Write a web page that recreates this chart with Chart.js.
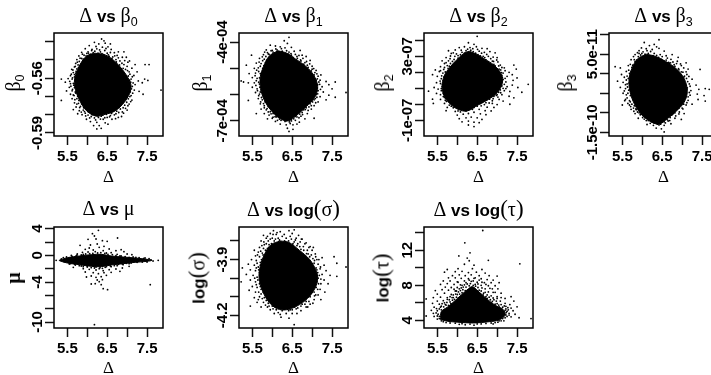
<!DOCTYPE html>
<html><head><meta charset="utf-8">
<script src="https://cdn.jsdelivr.net/npm/chart.js@4"></script>
<style>
html,body{margin:0;padding:0;background:#fff;width:711px;height:375px;overflow:hidden}
canvas{position:absolute}
.t{position:absolute;white-space:nowrap;font:bold 17px "Liberation Sans",sans-serif;color:#000;transform:translate(-50%,-50%);line-height:1}
.r{transform:translate(-50%,-50%) rotate(-90deg)}
.g{font-family:"Liberation Serif",serif;font-weight:normal;font-size:20px}
.p{font-family:"Liberation Serif",serif;font-weight:normal;font-size:23px}
sub{font:normal 12.5px "Liberation Sans",sans-serif;vertical-align:-4px;line-height:0}
</style></head><body>
<script>
// Shared horizontal axis
const deltaTicks=[5.5,6,6.5,7,7.5];
const deltaLabels=['5.5','','6.5','','7.5'];

// beta0
const beta0Ticks=[-0.54,-0.55,-0.56,-0.57,-0.58,-0.59];
const beta0Labels=['','','-0.56','','','-0.59'];
const beta0Dense=[[6.2,-.5463],[6.45,-.5472],[6.68,-.5505],[6.88,-.5552],[7.04,-.5605],[7.1,-.5645],[7.04,-.5695],[6.88,-.5745],[6.68,-.5782],[6.45,-.5798],[6.22,-.5808],[5.98,-.5778],[5.81,-.5722],[5.7,-.566],[5.68,-.561],[5.76,-.5552],[5.89,-.55],[6.03,-.5472],[6.2,-.5463]];
const beta0Points=[[6.36,-.5385],[6.18,-.5403],[6.29,-.5412],[6.45,-.5408],[6.05,-.5421],[6.22,-.5426],[6.38,-.543],[6.52,-.5428],[5.95,-.5438],[6.12,-.5442],[6.31,-.5445],[6.44,-.5448],[6.6,-.5442],[6.02,-.5455],[6.15,-.546],[6.27,-.5462],[6.37,-.5465],[6.5,-.5463],[6.68,-.546],[6.75,-.5475],[5.88,-.5468],[5.97,-.5478],[6.08,-.547],[6.55,-.548],[6.62,-.5492],[6.72,-.5498],[6.82,-.5505],[5.82,-.549],[5.9,-.5495],[5.75,-.5512],[5.84,-.5525],[5.7,-.5535],[5.78,-.5542],[5.64,-.5555],[5.72,-.5562],[5.6,-.5578],[5.68,-.558],[5.52,-.5602],[5.62,-.5605],[5.69,-.5612],[5.35,-.5605],[5.45,-.5622],[5.58,-.563],[5.66,-.5638],[5.55,-.565],[5.63,-.5662],[5.7,-.5675],[5.48,-.567],[5.58,-.5688],[5.67,-.5695],[5.35,-.5722],[5.62,-.5712],[5.74,-.5712],[5.68,-.5735],[5.78,-.5738],[5.72,-.5758],[5.83,-.5755],[5.65,-.5772],[5.8,-.5778],[5.9,-.5775],[5.76,-.5795],[5.87,-.58],[5.95,-.5792],[6.02,-.5802],[6.1,-.581],[5.98,-.5825],[6.18,-.5818],[6.28,-.5815],[6.35,-.5808],[6.08,-.5838],[6.24,-.5842],[6.4,-.5825],[6.5,-.5815],[6.16,-.586],[6.3,-.586],[6.45,-.5845],[6.58,-.5805],[6.62,-.5825],[6.24,-.5878],[6.35,-.5875],[6.52,-.5852],[6.72,-.5795],[6.78,-.5815],[6.88,-.5785],[6.96,-.5765],[6.86,-.581],[7.05,-.5742],[7,-.5775],[7.12,-.572],[7.1,-.5695],[7.18,-.5665],[7.08,-.5675],[7.2,-.5635],[7.13,-.5645],[7.28,-.5615],[7.38,-.5625],[7.44,-.5605],[7.52,-.5612],[7.3,-.5672],[7.4,-.5688],[7.1,-.5605],[7.17,-.5585],[7.25,-.5565],[7.05,-.5565],[7.12,-.5545],[7.2,-.5525],[7,-.5535],[7.06,-.5505],[6.92,-.5525],[6.98,-.5485],[6.88,-.5485],[7.45,-.5525],[7.55,-.5525],[7.85,-.5665],[6.78,-.5455],[6.58,-.5412],[6.42,-.5395],[6.92,-.5455],[7.02,-.5512]];
const beta0Edge=[[6.03,-.5462],[6.11,-.5448],[6.19,-.5452],[6.24,-.5439],[6.33,-.5456],[6.41,-.5471],[6.47,-.5437],[6.53,-.5472],[6.58,-.5459],[6.64,-.5483],[6.69,-.5477],[6.73,-.5511],[6.78,-.5488],[6.81,-.5527],[6.87,-.5518],[6.9,-.5546],[6.94,-.5503],[6.96,-.5552],[7.01,-.5558],[7.03,-.5588],[7.07,-.5578],[7.09,-.5622],[7.13,-.5592],[7.15,-.5626],[7.06,-.5611],[7.11,-.5658],[7.14,-.5682],[7.07,-.5701],[7.03,-.5713],[7.09,-.5728],[6.99,-.5732],[6.94,-.5748],[7.02,-.5751],[6.9,-.5762],[6.83,-.5769],[6.91,-.5792],[6.79,-.5788],[6.74,-.5781],[6.68,-.5801],[6.71,-.5822],[6.61,-.5793],[6.56,-.5812],[6.48,-.5798],[6.44,-.5817],[6.39,-.5803],[6.33,-.5824],[6.27,-.5806],[6.21,-.5829],[6.13,-.5799],[6.06,-.5818],[6.03,-.5785],[5.96,-.5807],[5.93,-.5783],[5.85,-.5786],[5.91,-.5762],[5.81,-.5761],[5.86,-.5741],[5.74,-.5742],[5.79,-.5722],[5.69,-.5718],[5.76,-.5699],[5.65,-.5692],[5.71,-.5681],[5.62,-.5669],[5.68,-.5652],[5.59,-.5644],[5.65,-.5628],[5.7,-.5641],[5.56,-.5617],[5.63,-.5598],[5.68,-.5593],[5.58,-.5586],[5.71,-.5572],[5.65,-.5569],[5.61,-.5551],[5.74,-.5549],[5.68,-.5538],[5.77,-.5527],[5.71,-.5519],[5.8,-.5508],[5.74,-.5498],[5.86,-.5492],[5.79,-.5478],[5.92,-.5474],[5.86,-.5458],[5.99,-.5464]];

// beta1 (values in units of 1e-04)
const beta1Ticks=[-4,-5,-6,-7];
const beta1Labels=['-4e-04','','','-7e-04'];
const beta1Dense=[[6.14,-4.33],[6.36,-4.42],[6.58,-4.64],[6.84,-4.92],[7.04,-5.26],[7.14,-5.7],[7.06,-6.12],[6.85,-6.46],[6.62,-6.78],[6.4,-7],[6.18,-6.9],[5.97,-6.6],[5.81,-6.24],[5.71,-5.78],[5.7,-5.32],[5.78,-4.94],[5.92,-4.54],[6.14,-4.33]];
const beta1Points=[[6.42,-3.82],[6.3,-3.95],[6.38,-4.05],[5.95,-4.12],[6.08,-4.15],[6.2,-4.18],[6.32,-4.22],[6.48,-4.2],[5.85,-4.3],[6,-4.32],[6.12,-4.3],[6.25,-4.35],[6.42,-4.38],[6.55,-4.35],[6.7,-4.32],[5.78,-4.48],[5.9,-4.45],[6.05,-4.42],[6.48,-4.5],[6.62,-4.55],[6.75,-4.5],[6.85,-4.55],[5.68,-4.62],[5.8,-4.65],[5.92,-4.58],[6.6,-4.7],[6.72,-4.72],[6.82,-4.78],[6.95,-4.7],[5.6,-4.8],[5.72,-4.82],[5.83,-4.78],[6.88,-4.88],[7,-4.92],[5.35,-4.88],[5.55,-5],[5.65,-4.98],[5.76,-5],[6.98,-5.1],[7.1,-5.08],[7.15,-5.3],[5.42,-5.2],[5.58,-5.18],[5.7,-5.2],[7.05,-5.25],[7.22,-5.25],[5.5,-5.35],[5.62,-5.38],[5.72,-5.42],[7.1,-5.45],[7.2,-5.45],[7.35,-5.5],[5.28,-5.52],[5.4,-5.55],[5.55,-5.55],[5.68,-5.6],[7.14,-5.62],[7.25,-5.7],[7.42,-5.62],[7.58,-5.52],[5.5,-5.72],[5.62,-5.78],[5.72,-5.82],[7.15,-5.85],[7.28,-5.9],[7.5,-5.78],[7.85,-5.92],[5.58,-5.92],[5.68,-5.98],[5.78,-6.02],[7.1,-6],[7.2,-6.08],[7.42,-6.02],[7.58,-6.1],[5.65,-6.15],[5.75,-6.2],[5.82,-6.28],[7.05,-6.2],[7.15,-6.28],[7.35,-6.2],[5.4,-6.22],[5.7,-6.35],[5.8,-6.42],[5.9,-6.45],[6.95,-6.35],[7.05,-6.42],[5.72,-6.55],[5.85,-6.58],[5.95,-6.65],[6.85,-6.5],[6.98,-6.55],[5.6,-6.72],[5.8,-6.72],[5.92,-6.78],[6.02,-6.72],[6.75,-6.68],[6.88,-6.72],[7.05,-6.9],[5.88,-6.92],[6,-6.9],[6.1,-6.85],[6.62,-6.85],[6.72,-6.82],[6.82,-6.92],[6.08,-7.02],[6.22,-6.98],[6.32,-7.02],[6.48,-7],[6.58,-6.98],[6.68,-7.05],[6.2,-7.12],[6.35,-7.15],[6.45,-7.1],[6.52,-7.15],[6.62,-7.12],[6.38,-7.28],[6.52,-7.32],[6.42,-7.4],[5.48,-4.5],[5.22,-5.48]];
const beta1Edge=[[6.02,-4.38],[6.09,-4.26],[6.17,-4.37],[6.23,-4.25],[6.29,-4.43],[6.36,-4.33],[6.41,-4.46],[6.47,-4.44],[6.52,-4.58],[6.58,-4.47],[6.63,-4.62],[6.67,-4.51],[6.71,-4.68],[6.77,-4.62],[6.79,-4.84],[6.86,-4.74],[6.9,-4.96],[6.94,-4.83],[7,-5.03],[7.04,-5.01],[7.07,-5.16],[7.12,-5.21],[7.13,-5.4],[7.17,-5.52],[7.19,-5.61],[7.13,-5.75],[7.21,-5.8],[7.14,-5.97],[7.12,-6.1],[7.08,-6.15],[7.09,-6.31],[7.01,-6.28],[6.98,-6.42],[6.92,-6.47],[6.9,-6.6],[6.83,-6.57],[6.79,-6.58],[6.76,-6.76],[6.69,-6.74],[6.67,-6.88],[6.58,-6.83],[6.54,-6.92],[6.47,-6.94],[6.43,-7.04],[6.35,-6.99],[6.28,-6.93],[6.18,-6.93],[6.13,-6.98],[6.07,-6.84],[6.02,-6.86],[5.97,-6.73],[5.9,-6.66],[5.87,-6.53],[5.8,-6.5],[5.78,-6.34],[5.71,-6.28],[5.73,-6.11],[5.66,-6.04],[5.7,-5.9],[5.63,-5.85],[5.69,-5.72],[5.59,-5.65],[5.66,-5.53],[5.6,-5.47],[5.68,-5.36],[5.57,-5.28],[5.66,-5.12],[5.74,-5.17],[5.61,-5.07],[5.7,-4.92],[5.79,-4.9],[5.67,-4.76],[5.76,-4.71],[5.86,-4.7],[5.75,-4.56],[5.84,-4.55],[5.92,-4.47],[5.81,-4.38],[5.88,-4.4],[5.97,-4.33]];

// beta2 (values in units of 1e-07)
const beta2Ticks=[4,3,2,1,0,-1];
const beta2Labels=['','3e-07','','','','-1e-07'];
const beta2Dense=[[6.3,3.32],[6.5,3.12],[6.68,2.84],[6.92,2.45],[7.1,1.9],[7.13,1.3],[7,.72],[6.78,.3],[6.52,-.05],[6.25,-.42],[6.02,-.32],[5.81,.05],[5.67,.52],[5.62,1.1],[5.67,1.76],[5.81,2.3],[6.02,2.86],[6.18,3.2],[6.3,3.32]];
const beta2Points=[[6.5,4.25],[6.28,3.85],[6.42,3.75],[6.05,3.55],[6.18,3.6],[6.32,3.55],[6.48,3.6],[6.62,3.5],[6.75,3.48],[5.95,3.4],[6.1,3.38],[6.22,3.35],[6.4,3.3],[6.55,3.32],[6.68,3.25],[6.82,3.3],[6.95,3.22],[5.78,3.35],[5.85,3.18],[5.98,3.15],[6.08,3.1],[6.52,3.1],[6.65,3],[6.78,3],[6.9,2.95],[7,2.92],[5.72,2.92],[5.82,2.85],[5.92,2.8],[6.72,2.78],[6.88,2.7],[7.02,2.65],[7.08,2.45],[5.62,2.72],[5.72,2.6],[5.83,2.55],[6.92,2.5],[7.12,2.3],[7.2,2.1],[5.58,2.35],[5.68,2.3],[5.77,2.25],[7.05,2.2],[7.15,1.95],[7.3,2],[7.42,2.45],[7.48,2.2],[5.45,2.15],[5.55,2.05],[5.64,1.95],[7.12,1.8],[7.25,1.75],[7.38,1.85],[5.38,1.85],[5.5,1.75],[5.6,1.6],[7.15,1.55],[7.22,1.4],[7.4,1.5],[7.5,1.65],[7.78,1.25],[5.48,1.35],[5.58,1.3],[5.62,1.1],[7.12,1.15],[7.25,1.1],[7.38,1.2],[7.52,1.05],[5.42,1.05],[5.52,.95],[5.6,.85],[7.08,.9],[7.18,.85],[7.32,.8],[5.28,.82],[5.48,.68],[5.58,.6],[5.65,.48],[7,.6],[7.12,.6],[7.3,.5],[7.42,.4],[7.62,.75],[5.38,.32],[5.58,.3],[5.7,.25],[6.9,.35],[7.05,.3],[7.15,.2],[5.4,.05],[5.68,.05],[5.8,-.05],[6.72,.1],[6.88,.05],[7,-.02],[7.32,0],[5.75,-.2],[5.9,-.22],[6.6,-.1],[6.75,-.18],[6.92,-.2],[5.72,-.4],[5.95,-.45],[6.08,-.48],[6.42,-.2],[6.55,-.32],[6.7,-.4],[6.85,-.42],[6,-.68],[6.15,-.62],[6.28,-.58],[6.42,-.5],[6.58,-.6],[6.72,-.65],[6.05,-.9],[6.22,-.85],[6.35,-.8],[6.5,-.85],[6.62,-.95],[6.12,-1.1],[6.28,-1.05],[6.42,-1.12],[6.55,-1.15],[6.28,-1.3],[6.42,-1.4]];
const beta2Edge=[[6.02,3.05],[6.12,3.25],[6.18,3.2],[6.26,3.45],[6.34,3.38],[6.39,3.48],[6.46,3.2],[6.51,3.44],[6.58,3.02],[6.61,3.2],[6.69,2.92],[6.74,3.12],[6.78,2.65],[6.84,2.85],[6.91,2.68],[6.95,2.4],[6.99,2.77],[7.04,2.4],[7,2.22],[7.09,2.15],[7.11,1.98],[7.18,2.28],[7.13,1.68],[7.2,1.62],[7.11,1.42],[7.18,1.25],[7.15,1],[7.22,.98],[7.05,1.02],[7.04,.75],[7.09,.72],[6.98,.55],[7.02,.45],[6.92,.5],[6.88,.22],[6.81,.32],[6.8,.08],[6.74,.28],[6.68,-.02],[6.63,.12],[6.58,.05],[6.5,-.12],[6.45,-.05],[6.38,-.32],[6.32,-.12],[6.22,-.42],[6.18,-.35],[6.1,-.3],[6.02,-.42],[5.98,-.12],[5.92,-.02],[5.85,-.12],[5.82,.1],[5.78,.32],[5.73,.18],[5.68,.42],[5.65,.68],[5.6,.98],[5.63,1.22],[5.57,1.45],[5.65,1.48],[5.61,1.78],[5.67,1.72],[5.58,2.1],[5.7,2.02],[5.66,2.18],[5.75,2.42],[5.68,2.55],[5.8,2.38],[5.87,2.42],[5.78,2.72],[5.88,2.68],[5.95,2.58],[5.83,3.02],[5.94,3],[6.02,2.88],[5.9,3.22]];

// beta3 (values in units of 1e-11)
const beta3Ticks=[10,5,0,-5,-10,-15];
const beta3Labels=['','5.0e-11','','','','-1.5e-10'];
const beta3Dense=[[6.1,5],[6.32,4.5],[6.58,3.2],[6.84,1.4],[7.05,-1.2],[7.13,-4.5],[7.05,-7.3],[6.84,-9.7],[6.63,-11.5],[6.42,-12.9],[6.18,-12.1],[5.97,-10.3],[5.81,-7.9],[5.69,-4.5],[5.67,-1.2],[5.74,1.3],[5.88,3.8],[6.1,5]];
const beta3Points=[[6.42,8.7],[6.05,8],[6.3,7.5],[6.18,7.2],[6.36,6.9],[5.98,6.6],[6.1,6.4],[6.25,6.2],[6.42,6.5],[6.55,5.8],[5.92,5.9],[6.02,5.6],[6.15,5.2],[6.3,5.2],[6.45,4.9],[6.6,4.6],[6.75,4.9],[6.9,4.2],[5.82,4.9],[5.9,4.4],[6,4.1],[6.48,3.7],[6.6,3.5],[6.72,3.7],[6.88,3.2],[5.72,3.6],[5.82,3.1],[5.88,2.6],[6.68,2.7],[6.8,2.3],[6.98,2.1],[7.1,2.8],[5.65,2.1],[5.74,1.6],[5.8,1.2],[6.78,1.4],[6.92,1],[7.02,.4],[7.15,1.2],[5.32,1.8],[5.45,1.5],[5.6,.6],[5.68,.1],[5.74,-.4],[6.92,-.2],[7.05,-.8],[7.12,-.2],[7.45,1.1],[5.48,-.2],[5.55,-.9],[5.65,-1.2],[7.02,-1.6],[7.14,-2],[7.25,-1.4],[5.38,-1.9],[5.52,-2.2],[5.62,-2.6],[5.7,-3],[7.1,-3],[7.2,-3.2],[7.35,-2.9],[5.45,-3.5],[5.58,-3.8],[5.66,-4.2],[7.12,-4],[7.22,-4.3],[7.42,-4],[7.58,-3.8],[7.68,-4],[5.52,-5],[5.6,-5.4],[5.7,-5.6],[7.1,-5.2],[7.2,-5.5],[7.38,-5.2],[7.55,-5.6],[5.58,-6.6],[5.68,-6.9],[5.77,-6.6],[7.05,-6.4],[7.15,-6.8],[7.4,-6.6],[7.58,-7],[5.5,-8],[5.68,-8],[5.8,-8.2],[7,-7.6],[7.1,-8],[7.25,-7.8],[5.72,-9.1],[5.85,-9.2],[5.95,-9.6],[6.92,-8.8],[7.02,-9],[5.82,-10.2],[5.95,-10.5],[6.05,-10.8],[6.82,-10],[6.92,-10.3],[7.05,-10.2],[5.9,-11.4],[6.05,-11.6],[6.15,-12],[6.7,-11.2],[6.82,-11.4],[6.98,-11.7],[6.2,-12.7],[6.3,-12.6],[6.55,-12.3],[6.65,-12.1],[6.72,-12.8],[6.12,-13],[6.28,-13.2],[6.42,-13.1],[6.55,-13.2],[6.35,-13.9],[6.48,-14.1],[6.55,-14.9]];
const beta3Edge=[[5.88,5.4],[5.96,4.8],[6.07,5],[6.12,5.9],[6.21,5.7],[6.27,4.6],[6.36,4.7],[6.41,4.2],[6.5,4.4],[6.54,3.3],[6.63,4],[6.66,2.9],[6.71,2.8],[6.77,3],[6.82,1.9],[6.86,2.6],[6.91,1.3],[6.96,2.5],[6.98,.5],[7.04,1.5],[7.06,-.6],[7.1,.5],[7.11,-1.2],[7.17,-.7],[7.13,-3.6],[7.18,-2.6],[7.15,-5.9],[7.18,-4.8],[7.12,-7.4],[7.08,-6.2],[7.04,-7.8],[7,-8.8],[6.95,-8],[6.93,-9.8],[6.87,-9],[6.84,-10.8],[6.78,-10.2],[6.74,-10.6],[6.69,-12],[6.63,-11.8],[6.58,-12.6],[6.5,-12.2],[6.46,-12.9],[6.38,-12.9],[6.32,-12.2],[6.25,-12.4],[6.18,-11.8],[6.1,-12],[6.08,-11],[6.01,-11.2],[5.98,-10.4],[5.92,-10],[5.88,-9.8],[5.84,-9],[5.79,-9.6],[5.78,-8.8],[5.74,-7.8],[5.71,-8.4],[5.7,-7.2],[5.64,-7.6],[5.62,-6.2],[5.56,-6.9],[5.64,-5],[5.55,-4.4],[5.63,-3.4],[5.67,-2.4],[5.58,-2.8],[5.6,-1.6],[5.69,-.8],[5.62,-.6],[5.66,.9],[5.72,.6],[5.7,2.4],[5.76,2.2],[5.8,3.6],[5.86,3.5],[5.78,4.4],[5.92,5.2],[5.99,5.2]];

// mu
const muTicks=[4,2,0,-2,-4,-6,-8,-10];
const muLabels=['4','','0','','-4','','','-10'];
const muDense=[[5.3,-.72],[5.5,-.35],[5.8,-.1],[6.1,.1],[6.35,.15],[6.6,-.1],[6.9,-.25],[7.2,-.4],[7.5,-.6],[7.62,-.75],[7.5,-.9],[7.2,-1.05],[6.9,-1.25],[6.6,-1.45],[6.35,-1.7],[6.1,-1.65],[5.8,-1.4],[5.5,-1.15],[5.3,-.8],[5.3,-.72]];
const muPoints=[[6.28,3.75],[6.13,3.25],[6.18,2.9],[6.22,2.45],[6.76,2.6],[6.02,2.4],[6.38,2.2],[6.5,2.1],[5.82,1.5],[6.08,1.55],[6.25,1.7],[6.42,1.35],[6.05,1.1],[6.3,1.2],[5.95,.9],[6.15,.8],[6.55,.95],[6.72,.7],[6.85,.85],[5.88,.45],[6.02,.5],[6.2,.55],[6.4,.7],[6.6,.4],[6.92,.55],[7,.2],[5.75,.2],[5.9,.15],[6.48,.35],[6.75,.15],[7.12,.1],[5.6,0],[5.72,-.1],[6.85,-.1],[7.22,-.3],[7.42,-.45],[5.22,-.75],[5.4,-.35],[7.6,-.7],[7.78,-.75],[5.55,-1.3],[5.7,-1.45],[5.85,-1.6],[6,-1.75],[6.18,-1.9],[6.32,-1.85],[6.45,-1.8],[6.6,-1.7],[6.75,-1.55],[6.9,-1.4],[7.05,-1.25],[5.65,-1.8],[5.9,-2],[6.05,-2.1],[6.22,-2.2],[6.4,-2.3],[6.55,-2.15],[6.72,-2.05],[6.88,-1.9],[7.05,-1.65],[5.95,-2.5],[6.15,-2.6],[6.28,-2.75],[6.42,-2.6],[6.6,-2.55],[6.82,-2.4],[6.1,-3.1],[6.22,-3.3],[6.35,-3.2],[6.48,-3],[5.98,-3.25],[6.25,-3.7],[6.38,-3.65],[6.3,-3.95],[6.2,-4.25],[6.1,-4.3],[6.35,-4.4],[6.4,-5],[6.51,-5.15],[7.58,-4.4],[6.18,-10.4]];
const muEdge=[[5.35,-.55],[5.42,-.95],[5.48,-.25],[5.58,-1.25],[5.62,-.15],[5.68,-1.3],[5.74,.02],[5.8,-1.55],[5.85,.05],[5.9,-1.7],[5.96,.2],[6,-1.6],[6.06,.25],[6.1,-1.85],[6.14,.3],[6.22,-1.75],[6.26,.35],[6.3,-2],[6.34,.4],[6.38,-1.95],[6.44,.3],[6.48,-1.7],[6.52,.15],[6.58,-1.6],[6.63,.1],[6.68,-1.55],[6.72,-.05],[6.78,-1.35],[6.82,-.1],[6.88,-1.3],[6.95,-.2],[6.98,-1.2],[7.05,-.3],[7.1,-1.15],[7.15,-.25],[7.25,-1.05],[7.3,-.35],[7.38,-1],[7.45,-.4],[7.5,-1],[7.55,-.5],[7.65,-.85]];

// log(sigma)
const logSigmaTicks=[-3.8,-3.9,-4,-4.1,-4.2];
const logSigmaLabels=['','-3.9','','','-4.2'];
const logSigmaDense=[[6.2,-3.8],[6.42,-3.808],[6.68,-3.85],[6.94,-3.9],[7.09,-3.955],[7.14,-4],[7.07,-4.055],[6.88,-4.11],[6.62,-4.15],[6.35,-4.17],[6.13,-4.165],[5.92,-4.13],[5.76,-4.07],[5.67,-4],[5.7,-3.935],[5.81,-3.87],[5.97,-3.82],[6.2,-3.8]];
const logSigmaPoints=[[6.55,-3.74],[6.03,-3.745],[6.2,-3.75],[6.42,-3.745],[5.78,-3.77],[5.95,-3.76],[6.1,-3.765],[6.3,-3.765],[6.5,-3.76],[6.66,-3.77],[5.85,-3.785],[6,-3.785],[6.15,-3.785],[6.35,-3.785],[6.48,-3.79],[6.6,-3.785],[6.75,-3.79],[5.72,-3.8],[5.9,-3.8],[6.05,-3.8],[6.55,-3.805],[6.7,-3.805],[6.85,-3.81],[5.8,-3.82],[5.92,-3.82],[6.62,-3.825],[6.78,-3.83],[6.95,-3.83],[5.68,-3.835],[5.78,-3.84],[5.88,-3.84],[6.72,-3.845],[6.88,-3.85],[7,-3.85],[5.55,-3.85],[5.65,-3.86],[5.75,-3.865],[6.9,-3.87],[6.98,-3.875],[7.08,-3.87],[5.58,-3.88],[5.68,-3.885],[5.8,-3.895],[7.02,-3.895],[7.12,-3.9],[7.25,-3.89],[5.48,-3.9],[5.6,-3.905],[5.7,-3.915],[7.05,-3.92],[7.15,-3.925],[7.3,-3.93],[7.55,-3.885],[5.4,-3.925],[5.55,-3.93],[5.65,-3.94],[7.1,-3.945],[7.2,-3.95],[7.35,-3.96],[7.62,-3.92],[5.25,-3.945],[5.45,-3.955],[5.58,-3.96],[5.68,-3.97],[7.14,-3.97],[7.25,-3.98],[7.45,-3.985],[7.85,-3.94],[5.35,-3.98],[5.52,-3.985],[5.62,-3.995],[7.15,-4],[7.3,-4.01],[7.62,-3.99],[5.22,-4.02],[5.45,-4.01],[5.58,-4.02],[5.68,-4.03],[7.12,-4.02],[7.22,-4.03],[7.4,-4.03],[5.5,-4.045],[5.62,-4.05],[5.72,-4.06],[7.1,-4.05],[7.2,-4.06],[7.32,-4.075],[5.42,-4.065],[5.58,-4.075],[5.72,-4.085],[7.05,-4.075],[7.15,-4.09],[5.55,-4.105],[5.68,-4.1],[5.8,-4.105],[6.95,-4.1],[7.05,-4.115],[7.22,-4.115],[5.62,-4.13],[5.78,-4.13],[5.9,-4.135],[6.85,-4.125],[6.95,-4.14],[5.45,-4.15],[5.72,-4.155],[5.88,-4.155],[6,-4.15],[6.72,-4.15],[6.85,-4.155],[5.95,-4.17],[6.1,-4.17],[6.25,-4.175],[6.45,-4.17],[6.6,-4.165],[6.72,-4.175],[6.05,-4.19],[6.2,-4.195],[6.35,-4.19],[6.5,-4.19],[6.62,-4.19],[6.22,-4.21],[6.42,-4.215],[6.55,-4.25]];
const logSigmaEdge=[[5.98,-3.815],[6.08,-3.79],[6.18,-3.795],[6.25,-3.775],[6.31,-3.8],[6.41,-3.8],[6.45,-3.775],[6.52,-3.815],[6.58,-3.795],[6.64,-3.815],[6.69,-3.83],[6.73,-3.79],[6.79,-3.85],[6.82,-3.815],[6.86,-3.868],[6.92,-3.835],[6.94,-3.885],[7.03,-3.835],[7.06,-3.905],[7.09,-3.885],[7.12,-3.955],[7.17,-3.9],[7.18,-3.985],[7.21,-3.94],[7.22,-4.005],[7.16,-4.03],[7.14,-4.06],[7.09,-4.09],[7.06,-4.095],[7.02,-4.135],[6.98,-4.08],[6.92,-4.125],[6.89,-4.155],[6.82,-4.14],[6.78,-4.12],[6.75,-4.14],[6.68,-4.135],[6.64,-4.16],[6.56,-4.155],[6.5,-4.17],[6.41,-4.175],[6.3,-4.165],[6.22,-4.165],[6.15,-4.185],[6.08,-4.155],[6.02,-4.165],[5.98,-4.135],[5.92,-4.15],[5.85,-4.12],[5.83,-4.145],[5.75,-4.11],[5.77,-4.075],[5.66,-4.075],[5.65,-4.115],[5.7,-4.045],[5.6,-4.035],[5.64,-4.01],[5.56,-4],[5.66,-3.955],[5.6,-3.945],[5.7,-3.93],[5.62,-3.92],[5.73,-3.9],[5.63,-3.875],[5.77,-3.875],[5.71,-3.855],[5.83,-3.85],[5.74,-3.825],[5.85,-3.815],[5.92,-3.835],[5.79,-3.805],[5.95,-3.79],[5.88,-3.775],[6.02,-3.765],[6.12,-3.755]];

// log(tau)
const logTauTicks=[14,12,10,8,6,4];
const logTauLabels=['','12','','8','','4'];
const logTauDense=[[5.58,4.1],[5.6,5],[5.75,5.5],[5.92,6.15],[6.1,6.9],[6.28,7.6],[6.38,7.85],[6.52,7.35],[6.68,6.7],[6.85,6.05],[7,5.6],[7.15,5.25],[7.2,4.6],[7.05,4.05],[6.8,3.85],[6.4,3.7],[6,3.8],[5.75,3.9],[5.58,4.1]];
const logTauPoints=[[6.64,14.25],[6.19,12.85],[7.57,10.45],[6.04,11.35],[6.32,11.7],[6.25,11.1],[6.3,10.8],[6.78,10.85],[6.18,10.4],[6.42,10.3],[5.75,9.8],[5.68,9.5],[6.02,9.9],[6.38,9.9],[6.62,9.8],[5.95,9.55],[6.12,9.6],[6.28,9.45],[6.48,9.5],[6.7,9.4],[5.88,9.1],[6.05,9.2],[6.2,9.1],[6.35,9.2],[6.55,9.1],[6.8,9.1],[7,9.05],[5.78,8.85],[5.95,8.85],[6.1,8.8],[6.28,8.75],[6.42,8.8],[6.6,8.75],[6.75,8.65],[6.9,8.6],[5.65,8.5],[5.82,8.5],[6,8.4],[6.18,8.5],[6.35,8.45],[6.5,8.35],[6.68,8.3],[6.85,8.3],[7.05,8.3],[5.58,8.1],[5.75,8.2],[5.92,8.1],[6.08,8.05],[6.25,8.15],[6.45,8.1],[6.6,8],[6.78,7.95],[6.95,7.95],[5.7,7.8],[5.85,7.75],[6,7.75],[6.15,7.8],[6.52,7.75],[6.7,7.6],[6.88,7.6],[7.02,7.6],[5.45,7.4],[5.62,7.5],[5.78,7.45],[5.95,7.35],[6.08,7.4],[6.6,7.35],[6.78,7.25],[6.95,7.2],[7.1,7.1],[5.5,7],[5.68,7.1],[5.85,6.95],[6,6.95],[6.65,6.9],[6.85,6.8],[7,6.7],[7.2,6.5],[5.22,6.45],[5.4,6.6],[5.58,6.65],[5.75,6.6],[5.9,6.6],[6.75,6.5],[6.92,6.35],[7.08,6.2],[7.35,6.7],[5.5,6.2],[5.65,6.25],[5.82,6.1],[6.85,6],[7,5.9],[7.2,5.95],[7.42,6.2],[5.38,5.95],[5.55,5.85],[5.7,5.8],[7.05,5.55],[7.22,5.6],[7.32,5.8],[5.42,5.5],[5.58,5.5],[7.22,5.3],[7.35,5.4],[7.5,5.55],[5.35,5.15],[5.5,5.1],[5.6,5.2],[7.25,5.05],[7.4,5.1],[7.3,4.8],[7.45,4.7],[5.4,4.8],[5.52,4.7],[5.22,4.5],[5.42,4.45],[5.55,4.45],[7.25,4.45],[7.35,4.4],[7.55,4.3],[7.85,4.2],[5.5,4.15],[5.6,3.95],[5.72,3.75],[7.1,3.95],[7.02,3.8],[6.9,3.6],[6.05,3.55],[6.2,3.5],[6.42,3.45],[6.6,3.6]];
const logTauEdge=[[5.6,5.62],[5.66,5.55],[5.72,5.75],[5.78,5.72],[5.74,6.05],[5.84,5.9],[5.8,6.35],[5.88,6.3],[5.93,6.4],[5.87,6.6],[5.98,6.65],[6.03,6.55],[5.96,7],[6.06,7],[6.12,7.15],[6.03,7.25],[6.14,7.5],[6.2,7.4],[6.1,7.7],[6.22,7.8],[6.3,7.95],[6.18,8.05],[6.33,8.2],[6.4,8],[6.46,7.9],[6.52,8.15],[6.55,7.45],[6.62,7.7],[6.58,7],[6.66,7.1],[6.72,6.7],[6.7,7.2],[6.8,6.65],[6.75,6.9],[6.83,6.35],[6.9,6.55],[6.88,6.15],[6.95,5.85],[6.98,6.2],[7.04,5.75],[7.1,5.8],[7.14,5.5],[7.18,5.65],[7.27,5.45],[7.2,5.15],[7.28,5.2],[7.23,4.9],[7.22,4.62],[7.3,4.6],[7.2,4.3],[7.14,4.2],[7.17,3.95],[7.05,3.95],[6.95,3.75],[6.85,3.7],[6.72,3.65],[6.5,3.6],[6.32,3.58],[6.12,3.62],[5.95,3.68],[5.82,3.7],[5.65,3.85],[5.55,4.2],[5.5,4.5],[5.47,4.85],[5.55,5.3],[5.48,5.35],[5.62,5.9],[5.68,6],[5.75,6.4],[5.82,6.7],[5.9,6.9],[5.98,7.35],[6.05,7.6],[5.92,7.55],[6.12,8],[6.02,8.35],[6.22,8.3],[6.3,8.6],[6.4,8.5],[6.45,8.85],[6.55,8.6],[6.62,8.35],[6.72,8.1],[6.82,7.65],[6.9,7.2],[7,6.5],[7.1,6.6]];

const D='<span class=g>Δ</span>';
const panels=[
 {col:0,row:0,ticks:beta0Ticks,labels:beta0Labels,dense:beta0Dense,pts:beta0Points.concat(beta0Edge),min:-.5917,max:-.5352,title:D+' vs <span class=g>β</span><sub>0</sub>',yt:'<span class=g>β</span><sub>0</sub>',yx:-41},
 {col:1,row:0,ticks:beta1Ticks,labels:beta1Labels,dense:beta1Dense,pts:beta1Points.concat(beta1Edge),min:-7.575,max:-3.655,title:D+' vs <span class=g>β</span><sub>1</sub>',yt:'<span class=g>β</span><sub>1</sub>',yx:-39},
 {col:2,row:0,ticks:beta2Ticks,labels:beta2Labels,dense:beta2Dense,pts:beta2Points.concat(beta2Edge),min:-1.987,max:4.46,title:D+' vs <span class=g>β</span><sub>2</sub>',yt:'<span class=g>β</span><sub>2</sub>',yx:-42},
 {col:3,row:0,ticks:beta3Ticks,labels:beta3Labels,dense:beta3Dense,pts:beta3Points.concat(beta3Edge),min:-15.94,max:10.43,title:D+' vs <span class=g>β</span><sub>3</sub>',yt:'<span class=g>β</span><sub>3</sub>',yx:-44.5},
 {col:0,row:1,ticks:muTicks,labels:muLabels,dense:muDense,pts:muPoints.concat(muEdge),min:-10.9,max:4.25,title:D+' vs <span class=g>μ</span>',yt:'<span class=g style="font-weight:bold">μ</span>',yx:-41},
 {col:1,row:1,ticks:logSigmaTicks,labels:logSigmaLabels,dense:logSigmaDense,pts:logSigmaPoints.concat(logSigmaEdge),min:-4.268,max:-3.725,title:D+' vs log<span class=p>(</span><span class=g>σ</span><span class=p>)</span>',yt:'log<span class=p>(</span><span class=g>σ</span><span class=p>)</span>',yx:-42},
 {col:2,row:1,ticks:logTauTicks,labels:logTauLabels,dense:logTauDense,pts:logTauPoints.concat(logTauEdge),min:3.13,max:14.65,title:D+' vs log<span class=p>(</span><span class=g>τ</span><span class=p>)</span>',yt:'log<span class=p>(</span><span class=g>τ</span><span class=p>)</span>',yx:-43}
];

const W=185,H=190,PL=54,PW=109;
const rows=[{top:0,pt:33,pb:136,tc:15,ty:83,xp:11},{top:194,pt:33,pb:134,tc:14,ty:84,xp:14}];
const FONT='bold 15px "Liberation Sans"';
const box={id:'box',afterDraw(c){const a=c.chartArea,x=c.ctx;x.save();x.strokeStyle='#000';x.lineWidth=1.5;x.strokeRect(a.left,a.top,a.right-a.left,a.bottom-a.top);x.restore();}};
const meas=document.createElement('canvas').getContext('2d');
meas.font=FONT;

function addText(html,x,y,cls){const d=document.createElement('div');d.className='t '+(cls||'');d.innerHTML=html;d.style.left=x+'px';d.style.top=y+'px';document.body.appendChild(d);}

panels.forEach(p=>{
 const R=rows[p.row],left=185*p.col;
 const cv=document.createElement('canvas');
 cv.width=W;cv.height=H;cv.style.cssText=`left:${left}px;top:${R.top}px;width:${W}px;height:${H}px`;
 document.body.appendChild(cv);
 const widest=Math.max(...p.labels.map(l=>meas.measureText(l).width));
 new Chart(cv,{type:'scatter',plugins:[box],data:{datasets:[
  {data:p.dense.map(([x,y])=>({x,y})),showLine:true,fill:'shape',tension:.35,pointRadius:0,borderColor:'#000',borderWidth:1,backgroundColor:'#000'},
  {data:p.pts.map(([x,y])=>({x,y})),pointRadius:.9,pointBorderWidth:0,pointBackgroundColor:'#000',showLine:false}
 ]},options:{responsive:false,animation:false,events:[],
  layout:{padding:{top:R.pt,right:W-PL-PW,left:0,bottom:0}},
  plugins:{legend:{display:false},tooltip:{enabled:false}},
  scales:{
   x:{type:'linear',min:5.166,max:7.9,afterBuildTicks:s=>{s.ticks=deltaTicks.map(value=>({value}));},
      afterFit:s=>{s.height=H-R.pb;},border:{display:false},
      grid:{drawOnChartArea:false,drawTicks:true,tickLength:9,tickWidth:1.5,tickColor:'#111'},
      ticks:{autoSkip:false,maxRotation:0,minRotation:0,padding:3,color:'#000',font:{family:'Liberation Sans',weight:'bold',size:15},callback:v=>deltaLabels[deltaTicks.indexOf(v)]??''},
      title:{display:true,text:'Δ',color:'#000',padding:{top:0,bottom:R.xp-9},font:{family:'Liberation Serif',size:17,weight:'normal'}}},
   y:{type:'linear',min:p.min,max:p.max,afterBuildTicks:s=>{s.ticks=p.ticks.map(value=>({value}));},
      afterFit:s=>{s.width=PL;},border:{display:false},
      grid:{drawOnChartArea:false,drawTicks:true,tickLength:9,tickWidth:1.5,tickColor:'#111'},
      ticks:{autoSkip:false,minRotation:90,maxRotation:90,crossAlign:'center',padding:7-widest/2,color:'#000',font:{family:'Liberation Sans',weight:'bold',size:15},callback:v=>p.labels[p.ticks.indexOf(v)]??''}}
  }}});
 addText(p.title,left+PL+PW/2,R.top+R.tc);
 addText(p.yt,left+PL+p.yx,R.top+R.ty,'r');
});
</script>
</body></html>
